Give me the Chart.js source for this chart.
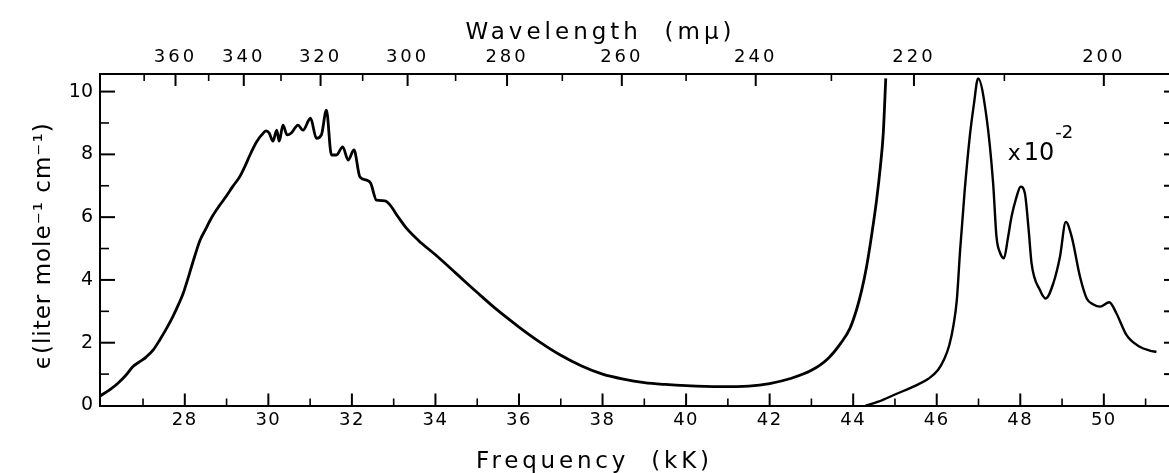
<!DOCTYPE html>
<html>
<head>
<meta charset="utf-8">
<script src="https://cdn.jsdelivr.net/npm/chart.js@4/dist/chart.umd.min.js"></script>
<style>
html,body{margin:0;padding:0;background:#fff;}
#wrap{width:1169px;height:473px;position:relative;}
</style>
</head>
<body>
<div id="wrap"><canvas id="c"></canvas></div>
<script>
// ---- data ----
const freqA = [25.97,26.2,26.4,26.6,26.76,26.95,27.08,27.25,27.4,27.56,27.72,27.85,27.96,28.06,28.16,28.26,28.36,28.5,28.64,28.82,29.0,29.15,29.32,29.45,29.56,29.72,29.84,29.95,30.02,30.11,30.2,30.26,30.35,30.45,30.55,30.71,30.83,31.01,31.15,31.27,31.39,31.51,31.63,31.78,31.91,32.05,32.19,32.35,32.45,32.59,32.79,32.91,33.1,33.31,33.6,34.0,34.5,35.0,35.5,36.0,36.5,37.0,37.5,38.0,38.5,39.0,39.5,40.0,40.8,41.5,42.0,42.5,43.0,43.4,43.7,43.92,44.08,44.2,44.32,44.45,44.56,44.65,44.72,44.78];
const epsA  = [0.30,0.50,0.71,0.98,1.24,1.42,1.55,1.78,2.09,2.45,2.85,3.22,3.57,3.98,4.42,4.85,5.25,5.62,5.98,6.35,6.68,6.98,7.30,7.65,7.98,8.40,8.62,8.75,8.68,8.42,8.77,8.42,8.93,8.62,8.68,8.93,8.77,9.15,8.51,8.62,9.41,7.98,7.98,8.24,7.82,8.14,7.29,7.18,7.08,6.54,6.52,6.39,6.02,5.64,5.25,4.80,4.20,3.60,3.02,2.50,2.02,1.60,1.26,1.00,0.84,0.73,0.67,0.63,0.60,0.62,0.70,0.86,1.12,1.50,1.98,2.45,3.05,3.65,4.42,5.50,6.54,7.60,8.67,10.42];

const freqB = [44.3,44.6,45.0,45.52,45.8,46.03,46.18,46.3,46.4,46.48,46.56,46.67,46.79,46.89,46.99,47.19,47.35,47.43,47.52,47.61,47.7,47.79,47.9,48.01,48.11,48.2,48.27,48.47,48.61,48.79,48.95,49.09,49.23,49.43,49.59,49.75,49.91,50.13,50.30,50.54,50.86,51.1,51.26];
const epsB  = [0.0,0.12,0.35,0.65,0.85,1.13,1.48,1.92,2.55,3.35,4.95,6.86,8.56,9.6,10.42,9.20,7.08,5.38,4.85,4.69,5.3,6.01,6.6,6.97,6.76,5.6,4.53,3.68,3.41,3.89,4.74,5.85,5.38,4.10,3.41,3.22,3.15,3.29,2.94,2.25,1.87,1.75,1.71];

const freqTicks   = [27,28,29,30,31,32,33,34,35,36,37,38,39,40,41,42,43,44,45,46,47,48,49,50,51];
const freqLabels  = [28,30,32,34,36,38,40,42,44,46,48,50];
const waveTicks   = [370,360,350,340,330,320,310,300,290,280,270,260,250,240,230,220,210,200];
const waveLabels  = [360,340,320,300,280,260,240,220,200];
const epsTicks    = [0,1,2,3,4,5,6,7,8,9,10];
const epsLabels   = [0,2,4,6,8,10];

const X_MIN = 25.97, X_MAX = 51.56, Y_MIN = 0, Y_MAX = 10.56;
const FONT = 'DejaVu Sans';

const toPts = (xs, ys) => xs.map((x, i) => ({x, y: ys[i]}));

// letter spacing and title offsets per scale
const TEXTCFG = {
  x:  {title:'3.8px', labels:'1.5px', dx:-40, dy:3},
  x2: {title:'4px',   labels:'3px',   dx:-34, dy:19},
  y:  {title:'1px',   labels:'0px',   dx:0,   dy:6}
};
const textStyle = {
  id:'textStyle',
  beforeDraw(chart){
    for (const id in TEXTCFG){
      const s = chart.scales[id];
      if (!s || s._wrapped) continue;
      const c = TEXTCFG[id];
      const ot = s.drawTitle.bind(s), ol = s.drawLabels.bind(s);
      s.drawTitle = function(){ const ctx=this.ctx; ctx.save(); ctx.letterSpacing=c.title; ctx.translate(c.dx,c.dy); ot(); ctx.restore(); };
      s.drawLabels = function(a){ const ctx=this.ctx; ctx.save(); ctx.letterSpacing=c.labels; ol(a); ctx.restore(); };
      s._wrapped = true;
    }
  }
};

// inward tick marks drawn at the scales' own tick positions
const TICKCFG = {
  x:  {major:12, minor:7, isMajor:v => Math.round(v)%2===0},
  x2: {major:12, minor:7, isMajor:v => Math.round(1e4/v)%20===0},
  y:  {major:15, minor:9, isMajor:v => Math.round(v)%2===0},
  y2: {major:5,  minor:5, isMajor:v => true}
};
const inwardTicks = {
  id:'inwardTicks',
  afterDraw(chart){
    const ctx = chart.ctx, a = chart.chartArea;
    ctx.save();
    ctx.strokeStyle = '#000';
    for (const id in TICKCFG){
      const s = chart.scales[id], c = TICKCFG[id];
      s.ticks.forEach(t => {
        if ((id==='y'||id==='y2') && t.value===0) return;
        const maj = c.isMajor(t.value);
        const len = maj ? c.major : c.minor;
        const p = s.getPixelForValue(t.value);
        ctx.lineWidth = maj ? 2 : 1.6;
        ctx.beginPath();
        if (id==='x'){ ctx.moveTo(p,a.bottom); ctx.lineTo(p,a.bottom-len); }
        else if (id==='x2'){ ctx.moveTo(p,a.top); ctx.lineTo(p,a.top+len); }
        else if (id==='y'){ ctx.moveTo(a.left,p); ctx.lineTo(a.left+len,p); }
        else { ctx.moveTo(a.right,p); ctx.lineTo(a.right-len,p); }
        ctx.stroke();
      });
    }
    ctx.restore();
  }
};

// "x10^-2" note beside the second curve
const NOTE_X = 47.7, NOTE_Y = 7.82;
const note = {
  id:'note',
  afterDraw(chart){
    const ctx = chart.ctx, sx = chart.scales.x, sy = chart.scales.y;
    const px = sx.getPixelForValue(NOTE_X), py = sy.getPixelForValue(NOTE_Y);
    ctx.save();
    ctx.fillStyle = '#000';
    ctx.textBaseline = 'alphabetic';
    ctx.textAlign = 'left';
    ctx.font = `22px "${FONT}"`;
    ctx.fillText('x', px, py);
    const wx = ctx.measureText('x').width;
    ctx.font = `24px "${FONT}"`;
    ctx.fillText('10', px + wx + 3, py);
    const w10 = ctx.measureText('10').width;
    ctx.font = `18px "${FONT}"`;
    ctx.fillText('-2', px + wx + 3 + w10 + 1, py - 22);
    ctx.restore();
  }
};

const axisFont = size => ({family: FONT, size});

new Chart(document.getElementById('c'), {
  type:'scatter',
  data:{
    datasets:[
      {data: toPts(freqA, epsA), showLine:true, borderColor:'#000', borderWidth:2.8, pointRadius:0, cubicInterpolationMode:'monotone', fill:false},
      {data: toPts(freqB, epsB), showLine:true, borderColor:'#000', borderWidth:2.4, pointRadius:0, cubicInterpolationMode:'monotone', fill:false}
    ]
  },
  options:{
    responsive:true, maintainAspectRatio:false, animation:false, devicePixelRatio:1,
    layout:{padding:0},
    plugins:{legend:{display:false}, tooltip:{enabled:false}, title:{display:false}},
    scales:{
      x:{
        type:'linear', position:'bottom', min:X_MIN, max:X_MAX,
        afterBuildTicks: s => { s.ticks = freqTicks.map(v => ({value:v})); },
        afterFit: s => { s.height = 67.5; },
        ticks:{autoSkip:false, maxRotation:0, padding:4.5, color:'#000', font:axisFont(18),
          callback: v => freqLabels.includes(Math.round(v)) ? String(Math.round(v)) : ''},
        grid:{display:false, drawTicks:false},
        border:{display:true, color:'#000', width:2},
        title:{display:true, text:'Frequency  (kK)', color:'#000', font:axisFont(23), padding:0}
      },
      x2:{
        type:'linear', position:'top', min:X_MIN, max:X_MAX,
        afterBuildTicks: s => { s.ticks = waveTicks.map(l => ({value:1e4/l})); },
        afterFit: s => { s.height = 74; },
        ticks:{autoSkip:false, maxRotation:0, padding:5.5, color:'#000', font:axisFont(18),
          callback: v => { const l = Math.round(1e4/v); return waveLabels.includes(l) ? String(l) : ''; }},
        grid:{display:false, drawTicks:false},
        border:{display:true, color:'#000', width:2},
        title:{display:true, text:'Wavelength  (mμ)', color:'#000', font:axisFont(23), padding:0}
      },
      y:{
        type:'linear', position:'left', min:Y_MIN, max:Y_MAX,
        afterBuildTicks: s => { s.ticks = epsTicks.map(v => ({value:v})); },
        afterFit: s => { s.width = 100; },
        ticks:{autoSkip:false, padding:7, color:'#000', font:axisFont(19),
          callback: v => epsLabels.includes(Math.round(v)) ? String(Math.round(v)) : ''},
        grid:{display:false, drawTicks:false},
        border:{display:true, color:'#000', width:2},
        title:{display:true, text:'ϵ(liter mole⁻¹ cm⁻¹)', color:'#000', font:axisFont(23), padding:{top:30,bottom:0}}
      },
      y2:{
        type:'linear', position:'right', min:Y_MIN, max:Y_MAX,
        afterBuildTicks: s => { s.ticks = epsTicks.map(v => ({value:v})); },
        afterFit: s => { s.width = 0; },
        ticks:{display:false},
        grid:{display:false, drawTicks:false},
        border:{display:false}
      }
    }
  },
  plugins:[textStyle, inwardTicks, note]
});
</script>
</body>
</html>
